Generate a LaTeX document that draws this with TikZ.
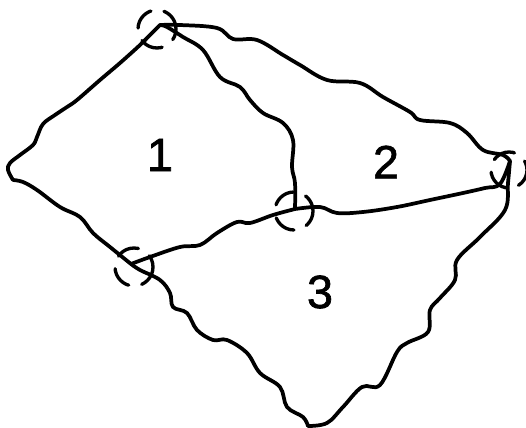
\documentclass[tikz,border=0pt]{standalone}
\usepackage{fontspec}
\setmainfont{Liberation Sans}[FakeBold=1.5]
\begin{document}
\begin{tikzpicture}[x=0.75pt,y=-0.75pt,
  edge/.style={line width=2.8pt,line cap=round,line join=round},
  junction/.style={circle,draw,line width=2.5pt,line cap=round,dash pattern=on 17pt off 10pt,minimum size=28.5pt,inner sep=0pt},
  region/.style={font=\fontsize{35}{35}\selectfont\bfseries}]
\useasboundingbox (0,0) rectangle (526,428);
% vertices
\coordinate (A) at (160,25);
\coordinate (L) at (8,170);
\coordinate (C) at (295,209);
\coordinate (R) at (510,161);
\coordinate (D) at (131,264);
\coordinate (B) at (308,426);
% junction circles
\node[junction] (jA) at (157,29) {};
\node[junction,dash phase=4pt] (jC) at (294,211) {};
\node[junction,dash phase=8pt] (jD) at (134,267) {};
\node[junction,minimum size=27pt,dash phase=10pt] (jR) at (509,170) {};
% edges
\draw[edge] plot[smooth,tension=0.6] coordinates {(A) (150,35) (140,45) (120,63) (100,80) (77,100) (67,107) (55,115) (43,124) (37,137) (33,145) (20,155) (10,163) (L) (13,180)};
\draw[edge] plot[smooth,tension=0.6] coordinates {(13,180) (23,182) (37,190) (60,207) (80,217) (93,233) (110,247) (D)};
\draw[edge] plot[smooth,tension=0.6] coordinates {(D) (140,270) (160,280) (170,293) (173,307) (187,313) (197,330) (213,340) (227,340) (247,353) (260,373) (280,387) (287,407) (303,417) (B)};
\draw[edge] plot[smooth,tension=0.6] coordinates {(R) (508,183) (505,210) (480,237) (457,260) (455,280) (440,298) (430,310) (428,332) (407,343) (397,352) (380,385) (362,387) (343,407) (327,423) (B)};
\draw[edge] plot[smooth,tension=0.6] coordinates {(A) (167,27) (183,37) (203,50) (220,77) (240,87) (250,100) (263,113) (283,123) (293,140) (292,167) (295,183) (C)};
\draw[edge] plot[smooth,tension=0.6] coordinates {(A) (180,25) (217,28) (233,39) (257,40) (283,55) (300,65) (327,80) (360,83) (383,97) (410,112) (420,120) (450,123) (467,133) (483,150) (503,155) (R)};
\draw[edge] plot[smooth,tension=0.6] coordinates {(C) (320,207) (337,213) (363,212) (397,207) (430,200) (463,193) (485,188) (500,184) (R)};
\draw[edge] plot[smooth,tension=0.6] coordinates {(D) (150,257) (180,247) (200,245) (217,233) (237,222) (250,223) (273,215) (C)};
% labels
\node[region,font=\fontsize{35}{35}\selectfont] (n1) at (160,155) {1};
\node[region,font=\fontsize{35}{35}\selectfont] (n2) at (386,162) {2};
\node[region,font=\fontsize{35}{35}\selectfont] (n3) at (320,292) {3};
\end{tikzpicture}
\end{document}
